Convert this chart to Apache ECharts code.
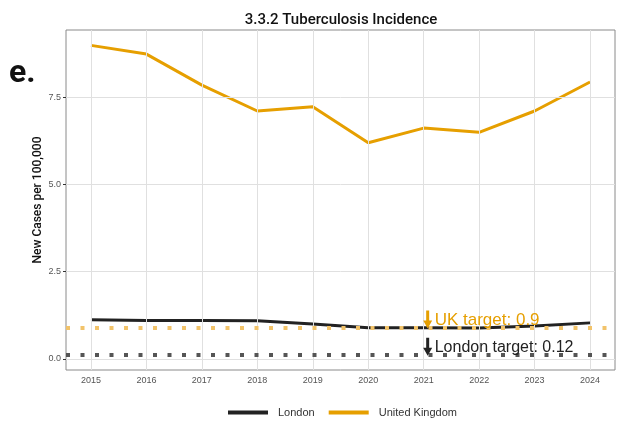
<!DOCTYPE html>
<html><head><meta charset="utf-8">
<script src="https://cdn.jsdelivr.net/npm/echarts@6/dist/echarts.min.js"></script>
<style>html,body{margin:0;padding:0;background:#fff}#c{width:617px;height:423px}</style>
</head><body><div id="c"></div>
<script>
const years = [2015,2016,2017,2018,2019,2020,2021,2022,2023,2024];
const london = [1.12,1.10,1.10,1.09,1.00,0.89,0.89,0.88,0.94,1.03];
const uk = [8.98,8.73,7.84,7.10,7.22,6.19,6.61,6.49,7.10,7.93];
const yTicks = [0,2.5,5,7.5];
const yTickLabels = ['0.0','2.5','5.0','7.5'];
const ukTarget = 0.9;
const londonTarget = 0.12;
const annotationYear = 2021;

const ORANGE = '#E69F00';
const BLACK = '#222222';
const ARROW = 'path://M3,0 L6,0 L6,10 L9,10 L4.5,18 L0,10 L3,10 Z';

const chart = echarts.init(document.getElementById('c'));
const gridLines = years.map(y => ({xAxis: y})).concat(yTicks.map(v => ({yAxis: v})));

function annot(value, text, color, size) {
  return [
    {coord: [annotationYear, value], symbol: ARROW, symbolSize: [9, 18], symbolOffset: [4, -8],
     itemStyle: {color: color}, label: {show: false}},
    {coord: [annotationYear, value], symbol: 'circle', symbolSize: 0,
     label: {show: true, position: 'inside', align: 'left', verticalAlign: 'bottom', offset: [11, 1],
       formatter: text, fontFamily: 'Liberation Sans', fontSize: size, color: color}}
  ];
}

chart.setOption({
  animation: false,
  title: {
    text: '3.3.2 Tuberculosis Incidence',
    left: 336, top: 8, textAlign: 'center',
    textStyle: {fontFamily: 'Roboto', fontWeight: 500, fontSize: 15, color: '#111'}
  },
  graphic: [{
    type: 'text', left: 9, top: 58,
    style: {text: 'e.', fontFamily: 'Roboto', fontWeight: 'bold', fontSize: 32, fill: '#111'}
  }],
  legend: {
    bottom: 0, left: 223,
    itemWidth: 40, itemHeight: 4, itemGap: 14,
    icon: 'rect',
    textStyle: {fontFamily: 'Liberation Sans', fontSize: 11, color: '#333', padding: [0, 0, 0, 5]},
    data: ['London', 'United Kingdom']
  },
  grid: {left: 66, right: 2, top: 30, bottom: 53, show: true, borderColor: '#8a8a8a', borderWidth: 1, containLabel: false},
  xAxis: {
    type: 'value', min: 2014.55, max: 2024.45,
    axisLine: {show: false},
    axisTick: {show: true, length: 3, lineStyle: {color: '#333'}, customValues: years},
    axisLabel: {customValues: years, color: '#555', fontSize: 9, fontFamily: 'Liberation Sans', margin: 6, formatter: v => String(v)},
    splitLine: {show: false}
  },
  yAxis: {
    type: 'value', min: -0.32, max: 9.42,
    name: 'New Cases per 100,000', nameLocation: 'middle', nameGap: 22, nameMoveOverlap: false,
    nameTextStyle: {fontFamily: 'Roboto', fontWeight: 500, fontSize: 12, color: '#111'},
    axisLine: {show: false},
    axisTick: {show: true, length: 3, lineStyle: {color: '#333'}, customValues: yTicks},
    axisLabel: {customValues: yTicks, color: '#555', fontSize: 9, fontFamily: 'Liberation Sans', margin: 5,
      formatter: v => yTickLabels[yTicks.indexOf(v)] ?? v.toFixed(1)},
    splitLine: {show: false}
  },
  series: [
    {
      name: 'grid', type: 'line', data: [], silent: true, z: 1,
      markLine: {silent: true, symbol: 'none', label: {show: false},
        lineStyle: {color: '#e0e0e0', width: 1, type: 'solid'}, data: gridLines}
    },
    {
      name: 'London', type: 'line', data: years.map((y, i) => [y, london[i]]),
      showSymbol: false, lineStyle: {color: BLACK, width: 3}, itemStyle: {color: BLACK}, z: 3
    },
    {
      name: 'United Kingdom', type: 'line', data: years.map((y, i) => [y, uk[i]]),
      showSymbol: false, lineStyle: {color: ORANGE, width: 3}, itemStyle: {color: ORANGE}, z: 3
    },
    {
      name: 'targets', type: 'line', data: [], silent: true, z: 5,
      markLine: {silent: true, symbol: 'none', label: {show: false},
        data: [
          {yAxis: ukTarget, lineStyle: {color: '#F2C36A', width: 4, type: [4, 10.5], cap: 'butt'}},
          {yAxis: londonTarget, lineStyle: {color: '#555', width: 4, type: [4, 10.5], cap: 'butt'}}
        ]},
      markPoint: {silent: true,
        data: annot(ukTarget, 'UK target: 0.9', ORANGE, 17).concat(annot(londonTarget, 'London target: 0.12', BLACK, 16))}
    }
  ]
});
</script></body></html>
